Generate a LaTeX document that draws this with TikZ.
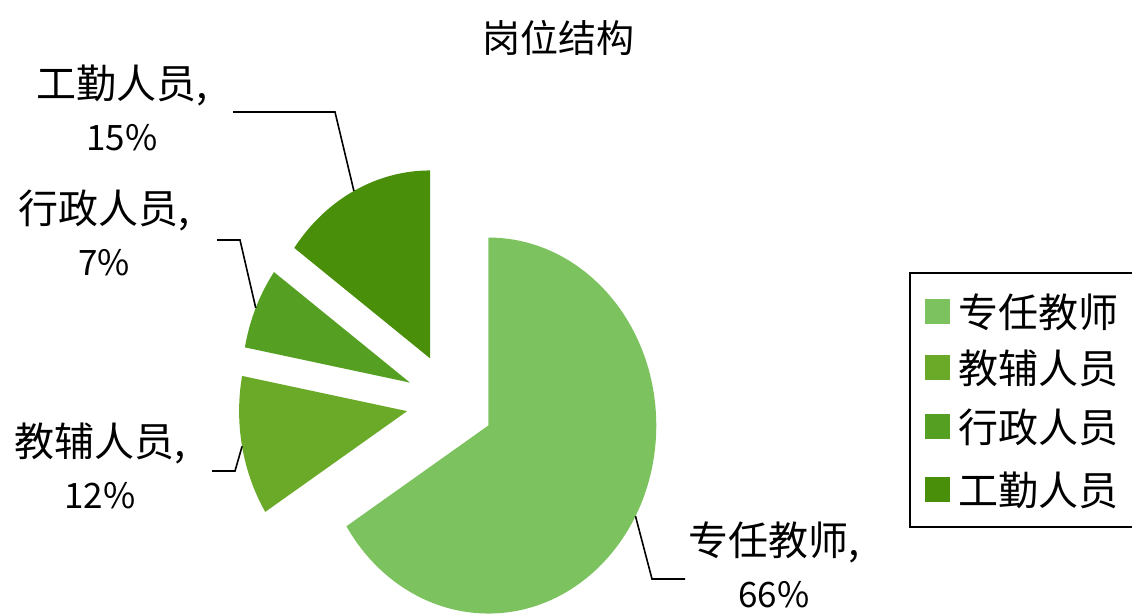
\documentclass[tikz,border=0pt]{standalone}
\usepackage{fontspec}
\setmainfont{Noto Sans CJK SC}
\usetikzlibrary{positioning}

\definecolor{zrgreen}{HTML}{7CC35F}
\definecolor{jfgreen}{HTML}{6BAA28}
\definecolor{xzgreen}{HTML}{55A023}
\definecolor{gqgreen}{HTML}{4A8F0A}

\newcommand{\pct}{\fontsize{35}{48}\selectfont}

\begin{document}
\begin{tikzpicture}[
        x=1pt, y=1pt,
        every node/.style={font=\fontsize{40}{52}\selectfont, inner sep=0pt, outer sep=0pt},
        lbl/.style={align=center},
        leader/.style={draw=black, line width=1.6pt},
        swatch/.style={minimum size=25pt}
    ]
    \useasboundingbox (0,0) rectangle (1132,615);

    % Title
    \node[font=\fontsize{38}{46}\selectfont] (title) at (558,577) {岗位结构};

    % Pie slices, each pulled out along its middle
    \begin{scope}[shift={(450,213)}, x=168pt, y=188pt]
        % 专任教师 66%
        \fill[zrgreen] (-28.8:0.26) -- ++(90:1)
            arc[start angle=90, end angle=-147.6, radius=1] -- cycle;
        % 教辅人员 12%
        \fill[jfgreen] (190.8:0.26) -- ++(212.4:1)
            arc[start angle=212.4, end angle=169.2, radius=1] -- cycle;
        % 行政人员 7%
        \fill[xzgreen] (156.6:0.26) -- ++(169.2:1)
            arc[start angle=169.2, end angle=144, radius=1] -- cycle;
        % 工勤人员 15%
        \fill[gqgreen] (117:0.26) -- ++(144:1)
            arc[start angle=144, end angle=90, radius=1] -- cycle;

        % Where the leaders touch the slices
        \coordinate (zr-tip) at (-28.8:1.26);
        \coordinate (jf-tip) at (190.8:1.26);
        \coordinate (xz-tip) at (156.6:1.26);
        \coordinate (gq-tip) at (117:1.26);
    \end{scope}

    % Data labels
    \node[lbl] (zr-label) at (774,50) {专任教师,\\\pct 66\%};
    \node[lbl] (jf-label) at (100,149) {教辅人员,\\\pct 12\%};
    \node[lbl] (xz-label) at (104,382) {行政人员,\\\pct 7\%};
    \node[lbl] (gq-label) at (122,507) {工勤人员,\\\pct 15\%};

    % Leader lines
    \coordinate (zr-elbow) at (652,36);
    \coordinate (zr-end) at (685,36);
    \draw[leader] (zr-tip) -- (zr-elbow) -- (zr-end);
    \coordinate (jf-elbow) at (235,144);
    \coordinate (jf-end) at (212,144);
    \draw[leader] (jf-tip) -- (jf-elbow) -- (jf-end);
    \coordinate (xz-elbow) at (240,375);
    \coordinate (xz-end) at (217,375);
    \draw[leader] (xz-tip) -- (xz-elbow) -- (xz-end);
    \coordinate (gq-elbow) at (335,503);
    \coordinate (gq-end) at (233,503);
    \draw[leader] (gq-tip) -- (gq-elbow) -- (gq-end);

    % Legend
    \draw[line width=1.2pt] (910,342) rectangle (1140,88);
    \node[swatch, fill=zrgreen] (zr-key) at (937,303) {};
    \node[right=9pt of zr-key] (zr-name) {专任教师};
    \node[swatch, fill=jfgreen] (jf-key) at (937,247) {};
    \node[right=9pt of jf-key] (jf-name) {教辅人员};
    \node[swatch, fill=xzgreen] (xz-key) at (937,188) {};
    \node[right=9pt of xz-key] (xz-name) {行政人员};
    \node[swatch, fill=gqgreen] (gq-key) at (937,125) {};
    \node[right=9pt of gq-key] (gq-name) {工勤人员};

\end{tikzpicture}
\end{document}
